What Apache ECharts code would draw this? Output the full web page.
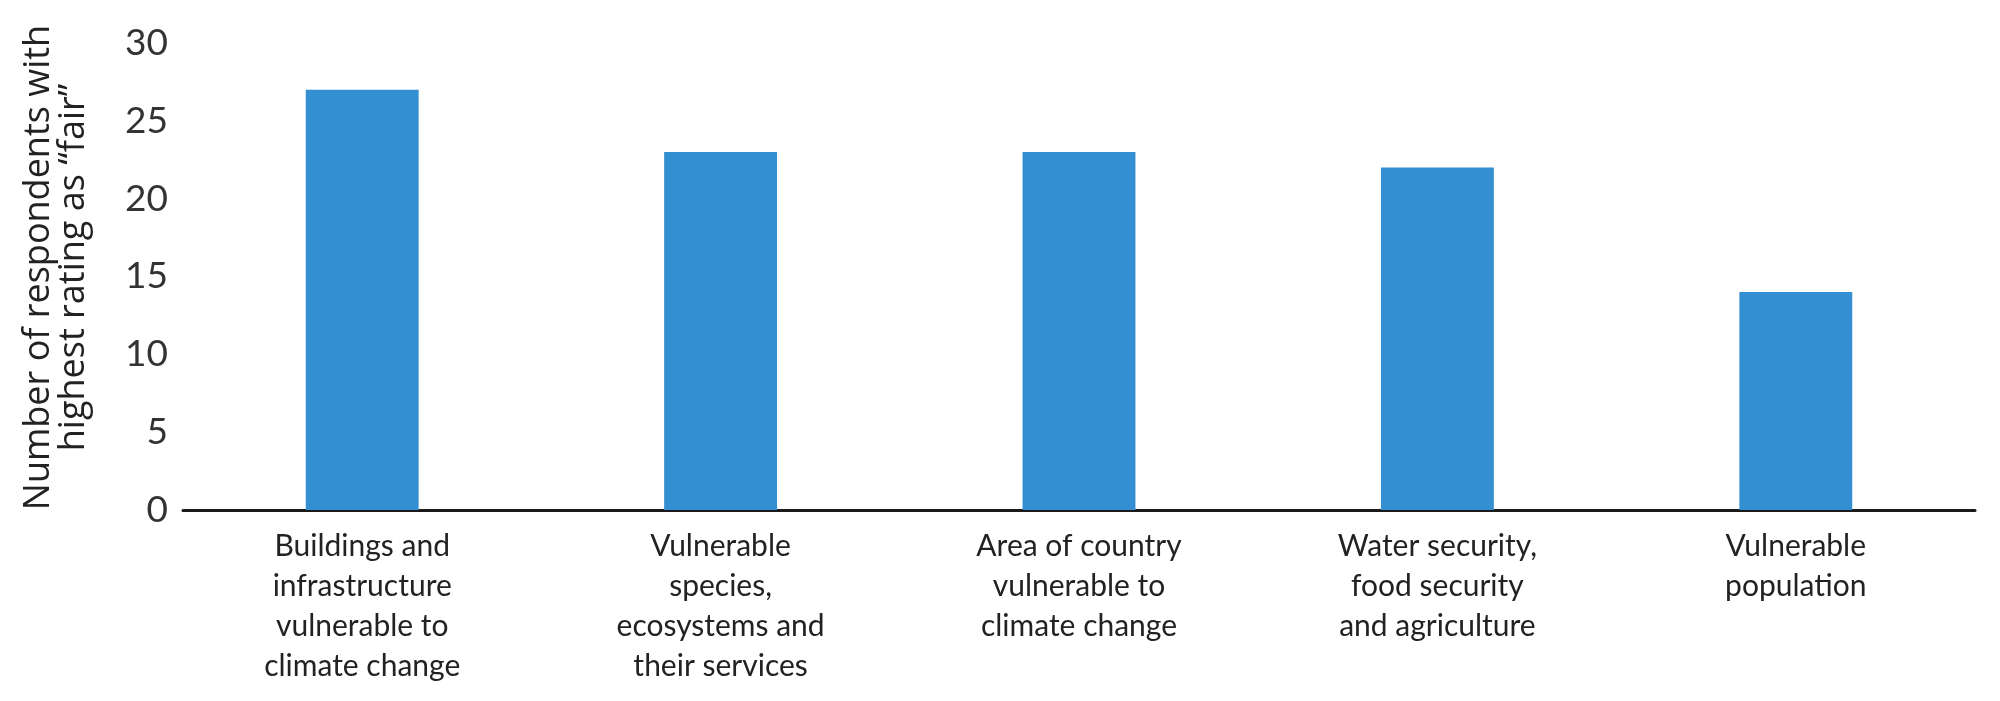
<!DOCTYPE html>
<html lang="en">
  <head>
    <meta charset="UTF-8" />
    <title>Respondents rating as fair</title>
    <script src="https://cdn.jsdelivr.net/npm/echarts@6/dist/echarts.min.js"></script>
    <style>
      html, body { margin: 0; padding: 0; background: #fff; }
      #main { width: 2000px; height: 701px; }
    </style>
  </head>
  <body>
    <div id="main"></div>

    <script>
      const categories = [
        'Buildings and\ninfrastructure\nvulnerable to\nclimate change',
        'Vulnerable\nspecies,\necosystems and\ntheir services',
        'Area of country\nvulnerable to\nclimate change',
        'Water security,\nfood security\nand agriculture',
        'Vulnerable\npopulation',
      ];
      const respondents = [27, 23, 23, 22, 14];
      const yTicks = [0, 5, 10, 15, 20, 25, 30];

      const font = 'Lato, "Open Sans", sans-serif';

      const options = {
        animation: false,
        grid: { left: 183, right: 25, top: 43, bottom: 191 },
        xAxis: {
          type: 'category',
          data: categories,
          axisLine: { lineStyle: { color: '#1a1a1a', width: 3 } },
          axisTick: { show: false },
          axisLabel: {
            interval: 0,
            margin: 16,
            fontFamily: font,
            fontSize: 30,
            lineHeight: 40,
            color: '#222',
          },
        },
        yAxis: {
          type: 'value',
          min: yTicks[0],
          max: yTicks[yTicks.length - 1],
          interval: 5,
          name: 'Number of respondents with\nhighest rating as \u201Cfair\u201D',
          nameLocation: 'middle',
          nameRotate: 90,
          nameGap: 92,
          nameTextStyle: {
            fontFamily: '"Open Sans", sans-serif',
            fontSize: 36,
            fontWeight: 500,
            lineHeight: 35,
            color: '#222',
            padding: [0, 0, 0, 18],
          },
          axisLine: { show: false },
          axisTick: { show: false },
          splitLine: { show: false },
          axisLabel: {
            margin: 15,
            padding: [0, 0, 10, 0],
            fontFamily: font,
            fontSize: 37,
            color: '#333',
          },
        },
        series: [
          {
            type: 'bar',
            data: respondents,
            barWidth: '31.5%',
            itemStyle: { color: '#348fd2' },
          },
        ],
      };

      var myChart = echarts.init(document.querySelector('#main'));
      myChart.setOption(options);

      window.onresize = function () {
        myChart.resize();
      };
    </script>
  </body>
</html>
